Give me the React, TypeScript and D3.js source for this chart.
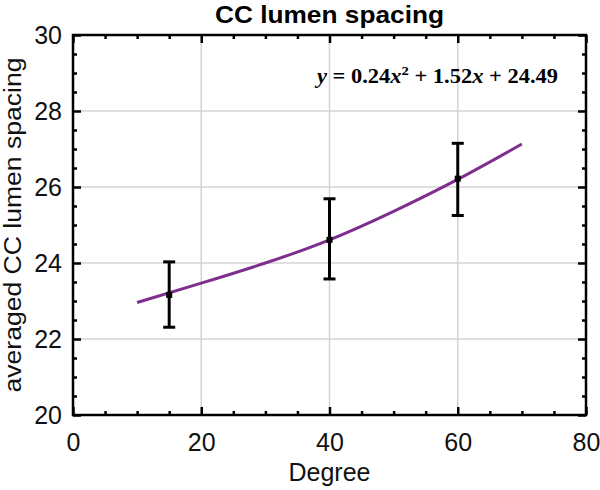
import { useEffect, useRef } from "react"
import * as d3 from "d3"

// measured points (mean +/- error)
const degrees = [15, 40, 60]
const means = [23.16, 24.61, 26.22]
const upper = [24.03, 25.69, 27.15]
const lower = [22.31, 23.58, 25.25]

// fitted curve
const fitX = [10, 20, 30, 40, 50, 60, 70]
const fitY = [22.96, 23.47, 24.0, 24.61, 25.36, 26.2, 27.13]

const xTicks = [0, 20, 40, 60, 80]
const yTicks = [20, 22, 24, 26, 28, 30]

const W = 600
const H = 490
const M = { top: 35, right: 14, bottom: 75, left: 73 }

const App = () => {
  const svgRef = useRef<SVGSVGElement>(null)

  useEffect(() => {
    const svg = d3.select(svgRef.current)
    svg.selectAll("*").remove()
    svg.attr("viewBox", [0, 0, W, H]).attr("font-family", "'Liberation Sans', Arial, sans-serif")

    const x = d3.scaleLinear().domain([0, 80]).range([M.left, W - M.right])
    const y = d3.scaleLinear().domain([20, 30]).range([H - M.bottom, M.top])
    const [x0, x1] = x.range()
    const [y0, y1] = y.range()

    // grid
    const grid = svg.append("g").attr("stroke", "#d4d4d4").attr("stroke-width", 1.5)
    grid.selectAll("line.gx")
      .data(xTicks.slice(1, -1))
      .join("line")
        .attr("x1", d => x(d)).attr("x2", d => x(d))
        .attr("y1", y0).attr("y2", y1)
    grid.selectAll("line.gy")
      .data(yTicks.slice(1, -1))
      .join("line")
        .attr("class", "gy")
        .attr("x1", x0).attr("x2", x1)
        .attr("y1", d => y(d)).attr("y2", d => y(d))

    // fitted curve
    const line = d3.line<number>()
      .x((_, i) => x(fitX[i]))
      .y(d => y(d))
      .curve(d3.curveNatural)
    svg.append("path")
      .attr("d", line(fitY))
      .attr("fill", "none")
      .attr("stroke", "#7e2f8e")
      .attr("stroke-width", 3)

    // error bars
    const eb = svg.append("g").attr("stroke", "#000").attr("stroke-width", 3)
    degrees.forEach((d, i) => {
      const cx = x(d)
      eb.append("line").attr("x1", cx).attr("x2", cx).attr("y1", y(lower[i])).attr("y2", y(upper[i]))
      eb.append("line").attr("x1", cx - 6).attr("x2", cx + 6).attr("y1", y(lower[i])).attr("y2", y(lower[i]))
      eb.append("line").attr("x1", cx - 6).attr("x2", cx + 6).attr("y1", y(upper[i])).attr("y2", y(upper[i]))
    })
    svg.append("g")
      .selectAll("rect")
      .data(degrees)
      .join("rect")
        .attr("x", d => x(d) - 3)
        .attr("y", (_, i) => y(means[i]) - 3)
        .attr("width", 6).attr("height", 6)
        .attr("fill", "#000")

    // axes (inward ticks on all four sides)
    const xMinor = d3.range(0, 81, 5).filter(v => v % 20 !== 0)
    const yMinor = d3.range(20, 30.01, 0.5).filter(v => v % 2 !== 0)
    const style = (g: any) => g
      .call((s: any) => s.select(".domain").remove())
      .call((s: any) => s.selectAll(".tick line").attr("stroke", "#000").attr("stroke-width", 2.5))
      .call((s: any) => s.selectAll(".tick text").attr("fill", "#111").attr("font-size", 25))

    svg.append("g").attr("transform", `translate(0,${y0})`)
      .call(d3.axisBottom(x).tickValues(xTicks).tickSize(-8).tickPadding(18).tickFormat(d3.format("d")))
      .call(style)
    svg.append("g").attr("transform", `translate(0,${y0})`)
      .call(d3.axisBottom(x).tickValues(xMinor).tickSize(-4).tickFormat(() => ""))
      .call(style)
    svg.append("g").attr("transform", `translate(0,${y1})`)
      .call(d3.axisTop(x).tickValues(xTicks).tickSize(-8).tickFormat(() => ""))
      .call(style)
    svg.append("g").attr("transform", `translate(0,${y1})`)
      .call(d3.axisTop(x).tickValues(xMinor).tickSize(-4).tickFormat(() => ""))
      .call(style)
    svg.append("g").attr("transform", `translate(${x0},0)`)
      .call(d3.axisLeft(y).tickValues(yTicks).tickSize(-8).tickPadding(11).tickFormat(d3.format("d")))
      .call(style)
    svg.append("g").attr("transform", `translate(${x0},0)`)
      .call(d3.axisLeft(y).tickValues(yMinor).tickSize(-4).tickFormat(() => ""))
      .call(style)
    svg.append("g").attr("transform", `translate(${x1},0)`)
      .call(d3.axisRight(y).tickValues(yTicks).tickSize(-8).tickFormat(() => ""))
      .call(style)
    svg.append("g").attr("transform", `translate(${x1},0)`)
      .call(d3.axisRight(y).tickValues(yMinor).tickSize(-4).tickFormat(() => ""))
      .call(style)

    // frame
    svg.append("rect")
      .attr("x", x0).attr("y", y1)
      .attr("width", x1 - x0).attr("height", y0 - y1)
      .attr("fill", "none").attr("stroke", "#000").attr("stroke-width", 2.5)

    // title and labels
    svg.append("text")
      .attr("x", (x0 + x1) / 2).attr("y", 23)
      .attr("text-anchor", "middle")
      .attr("font-size", 24).attr("font-weight", "bold")
      .attr("textLength", 229).attr("lengthAdjust", "spacingAndGlyphs")
      .text("CC lumen spacing")
    svg.append("text")
      .attr("x", (x0 + x1) / 2).attr("y", 481)
      .attr("text-anchor", "middle")
      .attr("font-size", 25).attr("fill", "#111")
      .attr("textLength", 82).attr("lengthAdjust", "spacingAndGlyphs")
      .text("Degree")
    svg.append("text")
      .attr("transform", `translate(21,${(y0 + y1) / 2}) rotate(-90)`)
      .attr("text-anchor", "middle")
      .attr("font-size", 23).attr("fill", "#111")
      .attr("textLength", 335).attr("lengthAdjust", "spacingAndGlyphs")
      .text("averaged CC lumen spacing")

    // equation
    const eq = svg.append("text")
      .attr("x", 317).attr("y", 83)
      .attr("font-family", "'Liberation Serif', 'DejaVu Serif', serif")
      .attr("font-weight", "bold").attr("font-size", 20)
      .attr("textLength", 241).attr("lengthAdjust", "spacingAndGlyphs")
    eq.append("tspan").attr("font-style", "italic").text("y")
    eq.append("tspan").text(" = 0.24")
    eq.append("tspan").attr("font-style", "italic").text("x")
    eq.append("tspan").attr("font-size", 13).attr("dy", -8).text("2")
    eq.append("tspan").attr("dy", 8).text(" + 1.52")
    eq.append("tspan").attr("font-style", "italic").text("x")
    eq.append("tspan").text(" + 24.49")
  }, [])

  return (
    <>
      <style>{"body{margin:0}"}</style>
      <svg ref={svgRef} width={W} height={H} style={{ display: "block" }} />
    </>
  )
}

export default App
